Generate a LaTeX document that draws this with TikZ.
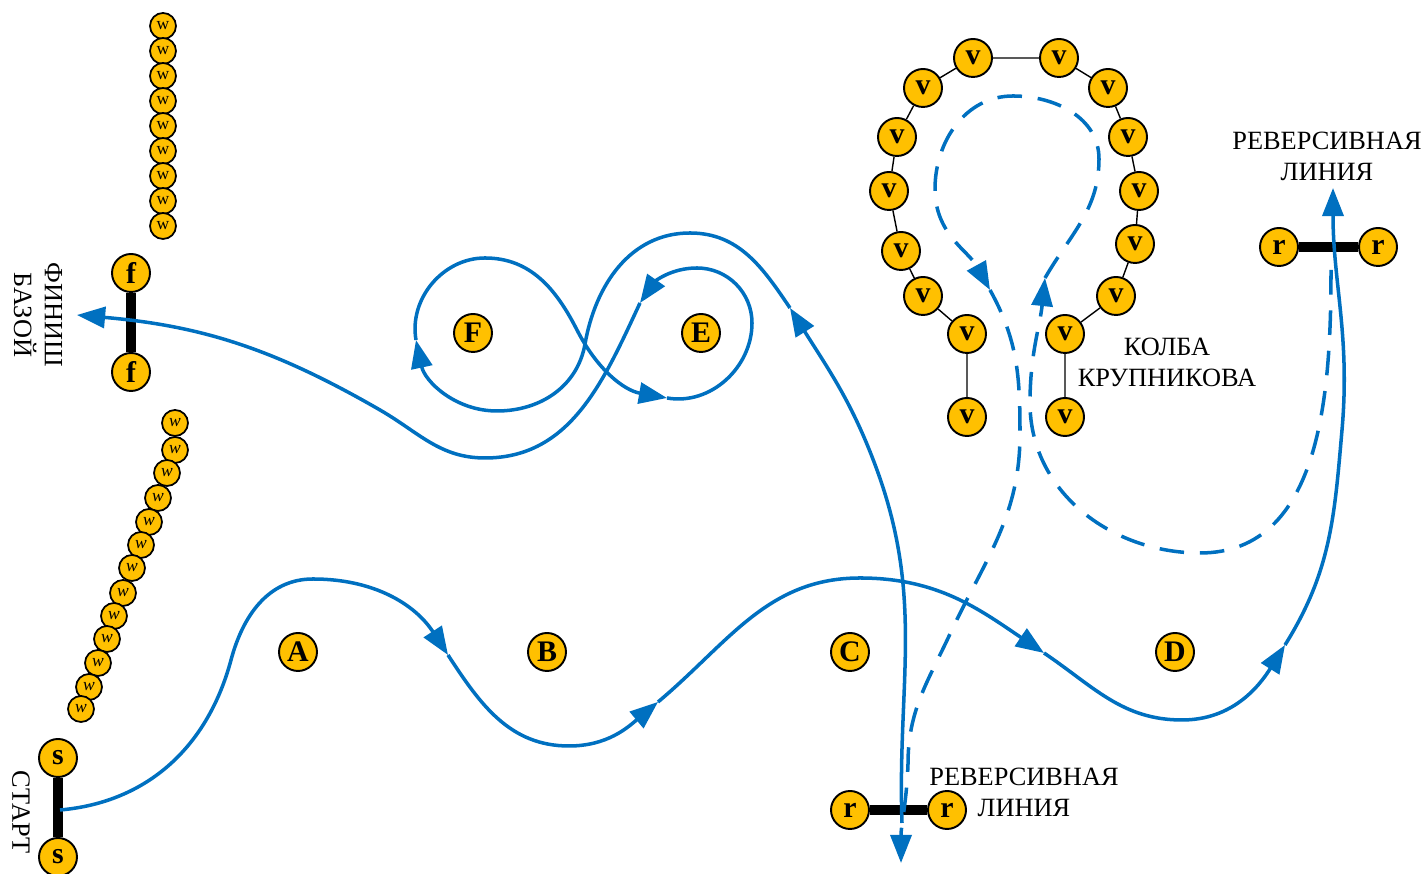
\documentclass[tikz,border=0pt]{standalone}
\usepackage{fontspec}
\setmainfont{Liberation Serif}
\usetikzlibrary{arrows.meta}
\definecolor{beadgold}{HTML}{FFC000}
\definecolor{routeblue}{HTML}{0070C0}

\begin{document}
\begin{tikzpicture}[x=0.02cm,y=0.02cm,
  bead/.style={circle,draw,line width=1.1pt,fill=beadgold,minimum size=0.76cm,inner sep=0pt,font=\fontsize{17}{17}\selectfont\bfseries},
  wbead/.style={circle,draw,line width=1pt,fill=beadgold,minimum size=0.52cm,inner sep=0pt,font=\fontsize{10}{10}\selectfont},
  rail/.style={line width=5.7pt},
  vlink/.style={line width=0.8pt},
  route/.style={routeblue,line width=2pt},
  backroute/.style={route,dash pattern=on 14pt off 9pt},
  arrowed/.style={-{Triangle[length=16pt,width=12pt]}},
  note/.style={align=center,font=\fontsize{15}{17.6}\selectfont}]
\useasboundingbox (0,0) rectangle (1427,874);

\node[bead] (s1) at (58,116) {s};
\node[bead] (s2) at (58,17) {s};
\node[bead] (f1) at (131,601) {f};
\node[bead] (f2) at (131,502) {f};
\node[bead] (r1) at (850,64) {r};
\node[bead] (r2) at (947,64) {r};
\node[bead] (r3) at (1279,627) {r};
\node[bead] (r4) at (1378,627) {r};

\node[bead] (A) at (298,222) {A};
\node[bead] (B) at (547,222) {B};
\node[bead] (C) at (850,222) {C};
\node[bead] (D) at (1175,222) {D};
\node[bead] (E) at (701,541) {E};
\node[bead] (F) at (473,541) {F};

\node[wbead] (w1) at (163,848) {w};
\node[wbead] (w2) at (163,823) {w};
\node[wbead] (w3) at (163,798) {w};
\node[wbead] (w4) at (163,773) {w};
\node[wbead] (w5) at (163,748) {w};
\node[wbead] (w6) at (163,723) {w};
\node[wbead] (w7) at (163,698) {w};
\node[wbead] (w8) at (163,673) {w};
\node[wbead] (w9) at (163,648) {w};

\node[wbead] (u1) at (175,451) {\itshape w};
\node[wbead] (u2) at (175,424) {\itshape w};
\node[wbead] (u3) at (167,401) {\itshape w};
\node[wbead] (u4) at (158,376) {\itshape w};
\node[wbead] (u5) at (149,352) {\itshape w};
\node[wbead] (u6) at (141,329) {\itshape w};
\node[wbead] (u7) at (132,306) {\itshape w};
\node[wbead] (u8) at (123,281) {\itshape w};
\node[wbead] (u9) at (114,258) {\itshape w};
\node[wbead] (u10) at (107,235) {\itshape w};
\node[wbead] (u11) at (98,211) {\itshape w};
\node[wbead] (u12) at (89,187) {\itshape w};
\node[wbead] (u13) at (81,165) {\itshape w};

\node[bead] (v1) at (967,457) {v};
\node[bead] (v2) at (967,540) {v};
\node[bead] (v3) at (923,578) {v};
\node[bead] (v4) at (901,623) {v};
\node[bead] (v5) at (889,683) {v};
\node[bead] (v6) at (897,737) {v};
\node[bead] (v7) at (923,786) {v};
\node[bead] (v8) at (973,816) {v};
\node[bead] (v9) at (1059,816) {v};
\node[bead] (v10) at (1108,786) {v};
\node[bead] (v11) at (1128,737) {v};
\node[bead] (v12) at (1139,683) {v};
\node[bead] (v13) at (1135,630) {v};
\node[bead] (v14) at (1116,578) {v};
\node[bead] (v15) at (1065,540) {v};
\node[bead] (v16) at (1065,457) {v};

\draw[vlink] (v1) -- (v2) -- (v3) -- (v4) -- (v5) -- (v6) -- (v7) -- (v8) -- (v9)
  -- (v10) -- (v11) -- (v12) -- (v13) -- (v14) -- (v15) -- (v16);

\node[note,rotate=-90] (finish) at (38,559) {ФИНИШ\\БАЗОЙ};
\node[note,rotate=-90] (start) at (21,62) {СТАРТ};
\node[note] (rev1) at (1024,82) {РЕВЕРСИВНАЯ\\ЛИНИЯ};
\node[note] (rev2) at (1327,718) {РЕВЕРСИВНАЯ\\ЛИНИЯ};
\node[note] (flask) at (1167,512) {КОЛБА\\КРУПНИКОВА};

\draw[rail] (s1) -- (s2);
\draw[rail] (f1) -- (f2);
\draw[rail] (r1) -- (r2);
\draw[rail] (r3) -- (r4);

\coordinate (st) at (60,64);
\coordinate (p1) at (231,214);
\coordinate (p2) at (313,295);
\coordinate (a1) at (448,219);
\coordinate (p3) at (569,128);
\coordinate (a2) at (658,172);
\coordinate (p4) at (860,296);
\coordinate (a3) at (1044,221);
\coordinate (p5) at (1182,154);
\coordinate (a4) at (1285,229);
\coordinate (p6) at (1342,444);
\coordinate (a5) at (1333,686);

\coordinate (q0) at (1331,604);
\coordinate (q1) at (1200,321);
\coordinate (q2) at (1030,471);
\coordinate (b1) at (1045,596);
\coordinate (q3) at (1099,715);
\coordinate (q4) at (1013,778);
\coordinate (q5) at (935,685);
\coordinate (b2) at (990,584);
\coordinate (q6) at (1020,440);
\coordinate (q7) at (950,240);
\coordinate (q8) at (908,110);
\coordinate (b3) at (901,11);

\coordinate (t0) at (902,51);
\coordinate (t1) at (877,404);
\coordinate (c1) at (790,566);
\coordinate (t2) at (690,641);
\coordinate (t3) at (585,530);
\coordinate (t4) at (497,463);
\coordinate (c2) at (416,534);
\coordinate (t5) at (485,616);
\coordinate (t6) at (577,544);
\coordinate (c3) at (667,476);
\coordinate (t7) at (752,551);
\coordinate (t8) at (697,606);
\coordinate (c4) at (640,571);
\coordinate (t9) at (485,416);
\coordinate (t10) at (380,464);
\coordinate (fin) at (77,559);

\draw[route,arrowed] (st) to[out=5,in=-105] (p1) to[out=75,in=180] (p2) to[out=0,in=123] (a1);
\draw[route,arrowed] (a1) to[out=-57,in=180] (p3) to[out=0,in=-140] (a2);
\draw[route,arrowed] (a2) to[out=40,in=180] (p4) to[out=0,in=146] (a3);
\draw[route,arrowed] (a3) to[out=-34,in=180] (p5) to[out=0,in=-122] (a4);
\draw[route,arrowed] (a4) to[out=58,in=-95] (p6) to[out=85,in=-90] (a5);

\draw[backroute,arrowed] (q0) to[out=-90,in=0] (q1) to[out=180,in=-90] (q2) to[out=90,in=-96] (b1);
\draw[backroute,arrowed] (b1) to[out=60,in=-90] (q3) to[out=90,in=0] (q4) to[out=180,in=90] (q5) to[out=-90,in=119] (b2);
\draw[backroute,arrowed] (b2) to[out=-61,in=90] (q6) to[out=-90,in=65] (q7) to[out=-115,in=90] (q8) to[out=-92,in=90] (b3);

\draw[route,arrowed] (t0) to[out=92,in=-70] (t1) to[out=110,in=-58] (c1);
\draw[route,arrowed] (c1) to[out=124,in=0] (t2) to[out=180,in=80] (t3) to[out=-100,in=0] (t4) to[out=180,in=-78] (c2);
\draw[route,arrowed] (c2) to[out=100,in=180] (t5) to[out=0,in=117] (t6) to[out=-63,in=170] (c3);
\draw[route,arrowed] (c3) to[out=-10,in=-90] (t7) to[out=90,in=0] (t8) to[out=180,in=55] (c4);
\draw[route,arrowed] (c4) to[out=-115,in=0] (t9) to[out=180,in=-30] (t10) to[out=150,in=-5] (fin);
\end{tikzpicture}
\end{document}
